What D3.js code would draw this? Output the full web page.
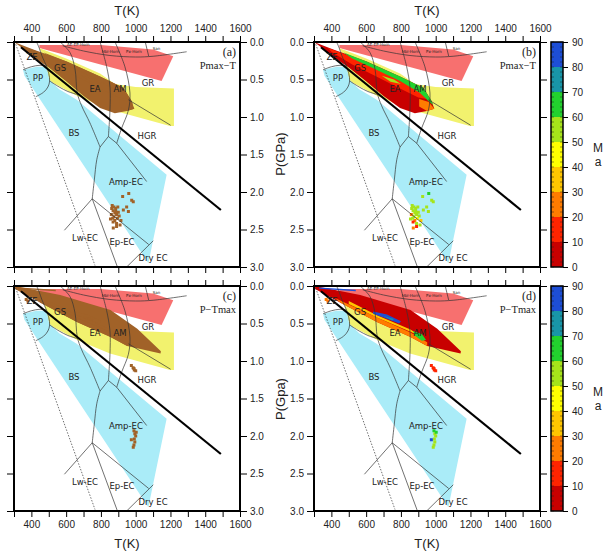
<!DOCTYPE html>
<html lang="en">
<head>
<meta charset="UTF-8">
<title>Pmax-T and P-Tmax</title>
<script src="https://cdn.jsdelivr.net/npm/d3@7"></script>
<style>
  body { margin: 0; background: #fff; }
  svg { display: block; font-family: "Liberation Sans", Arial, sans-serif; }
  .tick text { font-size: 10px; fill: #222; }
  .tick line { stroke: #000; }
  .facies { font-family: "DejaVu Sans", sans-serif; font-size: 8.5px; fill: #222; text-anchor: middle; }
  .horn { font-family: "DejaVu Sans", sans-serif; font-size: 4px; fill: #222; text-anchor: middle; }
  .ttl { font-size: 13px; fill: #222; text-anchor: middle; }
  .tag { font-family: "Liberation Serif", serif; fill: #222; text-anchor: end; }
</style>
</head>
<body>
<script>
// ---- axes ----
var tTicks = d3.range(300, 1601, 100);
var pTicks = [0, 0.5, 1, 1.5, 2, 2.5, 3];
var ageBins = d3.range(0, 91, 10);
var ageColors = ['#c80000', '#ff2400', '#ff7c00', '#ffc600', '#ffff00', '#a6e41a', '#22d22e', '#1896a8', '#1d4ed6'];

// ---- facies fields (T in K, P in GPa) ----
var hornfelsZone = [[446,0.04],[800,0.04],[1100,0.1],[1216,0.19],[1149,0.52],[446,0.08]];
var granuliteZone = [[445,0.08],[600,0.22],[795,0.42],[880,0.56],[1000,0.6],[1220,0.62],[1220,1.12],[1197,1.12],[852,0.9],[664,0.72],[505,0.52],[490,0.4],[470,0.2]];
var blueschistZone = [[352,0.37],[430,0.33],[487,0.33],[503,0.5],[560,0.63],[661,0.77],[1178,1.77],[1073,2.95],[360,0.45]];

// ---- facies boundaries ----
var zeGs = [[430,0],[445,0.08],[460,0.18],[475,0.26],[487,0.32]];
var ppTop = [[352,0.37],[400,0.33],[450,0.31],[487,0.32]];
var ppRight = [[487,0.32],[500,0.42],[505,0.52],[495,0.6],[470,0.67],[425,0.73]];
var ppEa = [[505,0.52],[560,0.6],[610,0.66],[664,0.7]];
var gsEa = [[565,0],[622,0.14],[651,0.36],[664,0.68],[689,0.85],[737,1.08],[795,1.4]];
var bsEc = [[795,1.4],[776,1.57],[762,1.84],[750,2.09]];
var eaAm = [[795,0],[833,0.33],[852,0.6],[852,0.91],[843,1.26]];
var amGr = [[881,0],[938,0.33],[967,0.68],[958,0.91],[919,1.15],[891,1.35]];
var ampTop = [[795,1.4],[843,1.26],[891,1.35]];
var hgrEc = [[891,1.35],[1063,1.86]];
var grHgr = [[958,0.77],[1201,1.11]];
var lwEc = [[750,2.09],[590,2.51]];
var lwEp = [[750,2.09],[895,3.0]];
var epAmp = [[750,2.09],[1075,2.7]];
var dryEc = [[948,3.0],[1101,2.65]];
var hornBase = [[580,0.05],[700,0.12],[852,0.18],[1000,0.2],[1100,0.19],[1293,0.13]];
var sanLine = [[1055,0],[1075,0.19]];
var warmGeotherm = [[340,0.07],[1490,2.24]];
var coldGeotherm = [[310,0.03],[766,2.98]];

var faciesNames = ['ZE','GS','PP','EA','AM','GR','BS','HGR','Amp-EC','Lw-EC','Ep-EC','Dry EC'];
var faciesT = [404, 565, 438, 766, 910, 1071, 645, 1065, 944, 708, 921, 1100];
var faciesP = [0.2, 0.35, 0.48, 0.63, 0.63, 0.55, 1.21, 1.25, 1.87, 2.61, 2.67, 2.88];
var hornNames = ['AE-EP-Horn', 'Hbl-Horn', 'Px-Horn', 'San'];
var hornT = [670, 855, 990, 1120];
var hornP = [0.035, 0.13, 0.12, 0.09];

// ---- Pmax-T records: areas with age (Ma) and isolated samples ----
var pmaxBandAges = [5, 15, 62, 25, 55];
var pmaxBands = [
  [[300,0],[411,0.1],[603,0.26],[795,0.46],[929,0.61],[975,0.78],[992,0.89],[950,0.92],[880,0.95],[795,0.88],[700,0.72],[603,0.53],[500,0.34],[411,0.2],[330,0.05]],
  [[380,0.08],[520,0.2],[650,0.33],[795,0.5],[900,0.64],[950,0.76],[900,0.74],[795,0.62],[650,0.45],[520,0.3],[400,0.13]],
  [[470,0.14],[603,0.26],[795,0.46],[929,0.61],[975,0.78],[985,0.84],[955,0.78],[910,0.68],[795,0.52],[650,0.36],[520,0.22]],
  [[905,0.76],[960,0.8],[992,0.89],[950,0.92],[905,0.86]],
  [[690,0.45],[760,0.5],[800,0.56],[740,0.53]]
];
var pmaxT = [865,875,885,870,880,890,860,875,895,880,870,890,900,905,862,925,977,986,948,929,958,890,871,910,855,868,885,897,915,960];
var pmaxP = [2.18,2.2,2.22,2.25,2.28,2.3,2.3,2.33,2.35,2.38,2.4,2.42,2.27,2.32,2.22,2.06,2.11,2.13,2.2,2.24,2.26,2.46,2.48,2.44,2.36,2.35,2.26,2.2,2.38,2.02];
var pmaxAge = [55,55,55,55,55,55,25,55,45,25,15,55,55,55,55,55,55,55,55,55,55,15,25,55,55,55,55,55,35,62];

// ---- P-Tmax records ----
var ptmaxBandAges = [5, 25, 35, 85, 65, 75, 85];
var ptmaxBands = [
  [[306,0],[566,0.12],[855,0.32],[1009,0.57],[1145,0.87],[1143,0.9],[951,0.8],[855,0.68],[662,0.48],[450,0.22],[306,0.04]],
  [[420,0.16],[662,0.42],[855,0.62],[951,0.75],[951,0.8],[855,0.68],[662,0.48],[450,0.22]],
  [[500,0.2],[662,0.39],[855,0.58],[920,0.68],[855,0.61],[662,0.42],[500,0.24]],
  [[640,0.34],[720,0.38],[800,0.47],[790,0.5],[700,0.42],[640,0.37]],
  [[870,0.6],[920,0.64],[945,0.72],[920,0.73],[880,0.66]],
  [[700,0.4],[760,0.44],[750,0.46]],
  [[330,0.02],[540,0.05],[540,0.07],[330,0.035]]
];
var ptmaxT = [370,380,975,985,992,1000,990,990,995,1000,992,995,990,986,975,1003];
var ptmaxP = [0.18,0.2,1.06,1.09,1.12,1.13,1.1,1.93,1.97,2.0,2.04,2.08,2.12,2.15,2.05,1.95];
var ptmaxAge = [25,25,10,10,10,10,15,65,55,55,55,55,55,55,85,60];

var brown = '#a16228';
var ageColor = d3.scaleThreshold().domain(ageBins.slice(1, 9)).range(ageColors);

var svg = d3.select('body').append('svg').attr('width', 606).attr('height', 559);
var pw = 226, ph = 225;

var panels = [
  {key: 'a', x0: 14, y0: 42, tag: '(a)', sub: 'Pmax\u2212T', set: 'pmax', colored: false, tLab: 'top', pLab: 'right'},
  {key: 'b', x0: 314, y0: 42, tag: '(b)', sub: 'Pmax\u2212T', set: 'pmax', colored: true, tLab: 'top', pLab: 'left'},
  {key: 'c', x0: 14, y0: 286, tag: '(c)', sub: 'P\u2212Tmax', set: 'ptmax', colored: false, tLab: 'bottom', pLab: 'right'},
  {key: 'd', x0: 314, y0: 286, tag: '(d)', sub: 'P\u2212Tmax', set: 'ptmax', colored: true, tLab: 'bottom', pLab: 'left'}
];

var x = d3.scaleLinear().domain([300, 1600]).range([0, pw]);
var y = d3.scaleLinear().domain([0, 3]).range([0, ph]);
var poly = d3.line().x(function(d) { return x(d[0]); }).y(function(d) { return y(d[1]); }).curve(d3.curveLinearClosed);
var line = d3.line().x(function(d) { return x(d[0]); }).y(function(d) { return y(d[1]); });
var smooth = d3.line().x(function(d) { return x(d[0]); }).y(function(d) { return y(d[1]); }).curve(d3.curveCatmullRom.alpha(0.5));

panels.forEach(function(p) {
  var g = svg.append('g').attr('transform', 'translate(' + p.x0 + ',' + p.y0 + ')');
  g.append('clipPath').attr('id', 'clip-' + p.key)
    .append('rect').attr('width', pw).attr('height', ph);
  var body = g.append('g').attr('clip-path', 'url(#clip-' + p.key + ')');

  body.append('path').attr('d', poly(hornfelsZone)).attr('fill', '#f7706f');
  body.append('path').attr('d', poly(granuliteZone)).attr('fill', '#f2f26e');
  body.append('path').attr('d', poly(blueschistZone)).attr('fill', '#aaecf8');

  // records
  var bands = p.set === 'pmax' ? pmaxBands : ptmaxBands;
  var bandAges = p.set === 'pmax' ? pmaxBandAges : ptmaxBandAges;
  body.selectAll('.band').data(bands).enter().append('path')
    .attr('class', 'band')
    .attr('d', poly)
    .attr('fill', function(d, i) { return p.colored ? ageColor(bandAges[i]) : brown; });

  var T = p.set === 'pmax' ? pmaxT : ptmaxT;
  var P = p.set === 'pmax' ? pmaxP : ptmaxP;
  var A = p.set === 'pmax' ? pmaxAge : ptmaxAge;
  body.selectAll('.pt').data(T).enter().append('rect')
    .attr('class', 'pt')
    .attr('x', function(d) { return x(d) - 1.5; })
    .attr('y', function(d, i) { return y(P[i]) - 1.5; })
    .attr('width', 3).attr('height', 3)
    .attr('fill', function(d, i) { return p.colored ? ageColor(A[i]) : brown; });

  // boundaries
  [zeGs, ppTop, ppRight, ppEa, gsEa, bsEc, eaAm, amGr, hornBase].forEach(function(b) {
    body.append('path').attr('d', smooth(b)).attr('fill', 'none').attr('stroke', '#333').attr('stroke-width', 0.7);
  });
  [ampTop, hgrEc, grHgr, lwEc, lwEp, epAmp, dryEc, sanLine].forEach(function(b) {
    body.append('path').attr('d', line(b)).attr('fill', 'none').attr('stroke', '#333').attr('stroke-width', 0.7);
  });
  body.append('path').attr('d', line(coldGeotherm)).attr('fill', 'none')
    .attr('stroke', '#333').attr('stroke-width', 0.7).attr('stroke-dasharray', '1.5,1.5');
  body.append('path').attr('d', line(warmGeotherm)).attr('fill', 'none')
    .attr('stroke', '#000').attr('stroke-width', 2.2);

  body.selectAll('.facies').data(faciesNames).enter().append('text')
    .attr('class', 'facies')
    .attr('x', function(d, i) { return x(faciesT[i]); })
    .attr('y', function(d, i) { return y(faciesP[i]) + 3; })
    .text(function(d) { return d; });
  body.selectAll('.horn').data(hornNames).enter().append('text')
    .attr('class', 'horn')
    .attr('x', function(d, i) { return x(hornT[i]); })
    .attr('y', function(d, i) { return y(hornP[i]) + 1.5; })
    .text(function(d) { return d; });

  // axes
  var fmtT = function(side) {
    return function(d) { return (p.tLab === side && d % 200 === 0) ? d : ''; };
  };
  var fmtP = function(side) {
    return function(d) { return p.pLab === side ? d3.format('.1f')(d) : ''; };
  };
  g.append('g').call(d3.axisTop(x).tickValues(tTicks).tickSize(6).tickPadding(4).tickFormat(fmtT('top')));
  g.append('g').attr('transform', 'translate(0,' + ph + ')')
    .call(d3.axisBottom(x).tickValues(tTicks).tickSize(6).tickPadding(4).tickFormat(fmtT('bottom')));
  g.append('g').call(d3.axisLeft(y).tickValues(pTicks).tickSize(7).tickPadding(3).tickFormat(fmtP('left')));
  g.append('g').attr('transform', 'translate(' + pw + ',0)')
    .call(d3.axisRight(y).tickValues(pTicks).tickSize(7).tickPadding(3).tickFormat(fmtP('right')));
  g.selectAll('.domain').remove();

  g.append('rect').attr('width', pw).attr('height', ph)
    .attr('fill', 'none').attr('stroke', '#000').attr('stroke-width', 2);

  g.append('text').attr('class', 'tag').attr('x', pw - 4).attr('y', 14)
    .style('font-size', '12px').text(p.tag);
  g.append('text').attr('class', 'tag').attr('x', pw - 4).attr('y', 27)
    .style('font-size', '10.5px').text(p.sub);

  // colour bar
  if (p.colored) {
    var cb = svg.append('g').attr('transform', 'translate(551,' + p.y0 + ')');
    var cy = d3.scaleLinear().domain([0, 90]).range([ph, 0]);
    cb.selectAll('rect.bin').data(ageBins.slice(0, 9)).enter().append('rect')
      .attr('class', 'bin')
      .attr('x', 0).attr('width', 12)
      .attr('y', function(d) { return cy(d + 10); })
      .attr('height', function(d) { return cy(d) - cy(d + 10); })
      .attr('fill', function(d) { return ageColor(d); });
    var minor = d3.range(0, 91, 2);
    cb.selectAll('line.mn').data(minor).enter().append('line')
      .attr('x1', 0).attr('x2', 3)
      .attr('y1', cy).attr('y2', cy).attr('stroke', '#222').attr('stroke-width', 0.5);
    cb.selectAll('line.mx').data(minor).enter().append('line')
      .attr('x1', 9).attr('x2', 12)
      .attr('y1', cy).attr('y2', cy).attr('stroke', '#222').attr('stroke-width', 0.5);
    cb.append('rect').attr('width', 12).attr('height', ph)
      .attr('fill', 'none').attr('stroke', '#000').attr('stroke-width', 1.5);
    var ax = cb.append('g').attr('transform', 'translate(12,0)')
      .call(d3.axisRight(cy).tickValues(ageBins).tickSize(5).tickPadding(4));
    ax.select('.domain').remove();
    // unit label "Ma" stacked on two lines
    cb.append('text').attr('class', 'ttl').style('font-size', '12px')
      .attr('x', 47).attr('y', ph / 2 - 3).text('M');
    cb.append('text').attr('class', 'ttl').style('font-size', '12px')
      .attr('x', 47).attr('y', ph / 2 + 11).text('a');
  }
});

// axis titles
svg.append('text').attr('class', 'ttl').attr('x', 127).attr('y', 15).text('T(K)');
svg.append('text').attr('class', 'ttl').attr('x', 427).attr('y', 15).text('T(K)');
svg.append('text').attr('class', 'ttl').attr('x', 127).attr('y', 548).text('T(K)');
svg.append('text').attr('class', 'ttl').attr('x', 427).attr('y', 548).text('T(K)');
svg.append('text').attr('class', 'ttl')
  .attr('transform', 'translate(285,154) rotate(-90)').text('P(GPa)');
svg.append('text').attr('class', 'ttl')
  .attr('transform', 'translate(285,399) rotate(-90)').text('P(Gpa)');
</script>
</body>
</html>
